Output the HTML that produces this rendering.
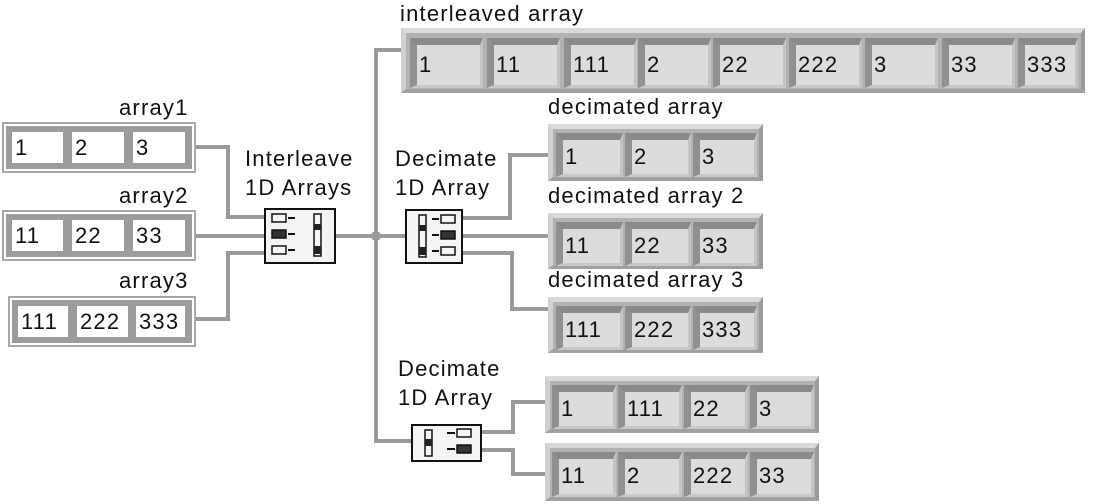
<!DOCTYPE html>
<html><head><meta charset="utf-8"><style>
body{margin:0;width:1099px;height:504px;background:#fff;position:relative;overflow:hidden;font-family:"Liberation Sans",sans-serif;font-size:22px;letter-spacing:1.2px;color:#111}
div{position:absolute;box-sizing:border-box}
.t{white-space:nowrap;line-height:24px}
.w{background:#9a9a9a}
.ind{background:#b2b2b2;border-top:5px solid #dadada;border-left:5px solid #d0d0d0;border-right:4px solid #9a9a9a;border-bottom:4px solid #a0a0a0}
.c{background:#dcdcdc;border-top:7px solid #8a8a8a;border-left:7px solid #909090;border-right:3px solid #c4c4c4;border-bottom:3px solid #c8c8c8;padding-left:2px;white-space:nowrap}
.i1 .c{line-height:40px}
.i2 .c{line-height:34px}
.la{border:2px solid #a8a8a8;background:#fff;padding:2px}
.lai{position:relative;width:100%;height:100%;background:#9c9c9c}
.lc{background:#fff;line-height:31px;padding-left:3px;white-space:nowrap}
.node{border:2px solid #111;background:#f4f4f4}
</style></head><body>

<!-- wires -->
<div class="w" style="left:196px;top:145px;width:34px;height:4px"></div>
<div class="w" style="left:226px;top:145px;width:4px;height:74px"></div>
<div class="w" style="left:226px;top:215px;width:40px;height:4px"></div>
<div class="w" style="left:196px;top:234px;width:70px;height:4px"></div>
<div class="w" style="left:196px;top:317px;width:34px;height:4px"></div>
<div class="w" style="left:226px;top:251px;width:4px;height:70px"></div>
<div class="w" style="left:226px;top:251px;width:40px;height:4px"></div>
<div class="w" style="left:336px;top:234px;width:70px;height:4px"></div>
<div class="w" style="left:374px;top:48px;width:4px;height:395px"></div>
<div class="w" style="left:374px;top:48px;width:30px;height:4px"></div>
<div class="w" style="left:374px;top:439px;width:38px;height:4px"></div>
<div style="left:371px;top:231px;width:10px;height:10px;border-radius:50%;background:#9a9a9a"></div>
<div class="w" style="left:462px;top:216px;width:50px;height:4px"></div>
<div class="w" style="left:508px;top:153px;width:4px;height:67px"></div>
<div class="w" style="left:508px;top:153px;width:40px;height:4px"></div>
<div class="w" style="left:462px;top:234px;width:88px;height:4px"></div>
<div class="w" style="left:462px;top:251px;width:52px;height:4px"></div>
<div class="w" style="left:510px;top:251px;width:4px;height:60px"></div>
<div class="w" style="left:510px;top:307px;width:40px;height:4px"></div>
<div class="w" style="left:482px;top:430px;width:33px;height:4px"></div>
<div class="w" style="left:511px;top:400px;width:4px;height:34px"></div>
<div class="w" style="left:511px;top:400px;width:36px;height:4px"></div>
<div class="w" style="left:482px;top:448px;width:33px;height:4px"></div>
<div class="w" style="left:511px;top:448px;width:4px;height:28px"></div>
<div class="w" style="left:511px;top:472px;width:36px;height:4px"></div>

<!-- left arrays -->
<div class="t" style="left:119px;top:96px">array1</div>
<div class="la" style="left:2px;top:122px;width:194px;height:51px"><div class="lai">
<div class="lc" style="left:6px;top:6px;width:51px;height:31px">1</div>
<div class="lc" style="left:66px;top:6px;width:52px;height:31px">2</div>
<div class="lc" style="left:127px;top:6px;width:52px;height:31px">3</div></div></div>
<div class="t" style="left:119px;top:184px">array2</div>
<div class="la" style="left:2px;top:210px;width:194px;height:51px"><div class="lai">
<div class="lc" style="left:6px;top:6px;width:51px;height:31px">11</div>
<div class="lc" style="left:66px;top:6px;width:52px;height:31px">22</div>
<div class="lc" style="left:127px;top:6px;width:52px;height:31px">33</div></div></div>
<div class="t" style="left:119px;top:269px">array3</div>
<div class="la" style="left:8px;top:296px;width:188px;height:51px"><div class="lai">
<div class="lc" style="left:6px;top:6px;width:50px;height:31px">111</div>
<div class="lc" style="left:65px;top:6px;width:51px;height:31px">222</div>
<div class="lc" style="left:124px;top:6px;width:49px;height:31px">333</div></div></div>

<!-- nodes -->
<div class="t" style="left:245px;top:147px">Interleave</div>
<div class="t" style="left:245px;top:176px">1D Arrays</div>
<div class="node" style="left:264px;top:208px;width:72px;height:56px">
<svg width="68" height="52" style="position:absolute;left:0;top:0">
<g fill="none" stroke="#111" stroke-width="1.5"><rect x="6" y="4" width="14" height="8"/><rect x="6" y="20" width="14" height="8" fill="#333"/><rect x="6" y="36" width="14" height="8"/><rect x="48" y="4" width="7" height="42"/></g>
<g stroke="#111" stroke-width="2"><line x1="22" y1="8" x2="29" y2="8"/><line x1="22" y1="24" x2="29" y2="24"/><line x1="22" y1="40" x2="29" y2="40"/></g>
<rect x="48" y="14" width="7" height="6" fill="#222"/><rect x="48" y="36" width="7" height="8" fill="#222"/></svg></div>

<div class="t" style="left:395px;top:147px">Decimate</div>
<div class="t" style="left:395px;top:176px">1D Array</div>
<div class="node" style="left:405px;top:209px;width:58px;height:55px">
<svg width="54" height="51" style="position:absolute;left:0;top:0">
<g fill="none" stroke="#111" stroke-width="1.5"><rect x="12" y="4" width="7" height="42"/><rect x="34" y="4" width="14" height="8"/><rect x="34" y="20" width="14" height="8" fill="#333"/><rect x="34" y="36" width="14" height="8"/></g>
<rect x="12" y="14" width="7" height="6" fill="#222"/><rect x="12" y="36" width="7" height="8" fill="#222"/>
<g stroke="#111" stroke-width="2"><line x1="25" y1="8" x2="32" y2="8"/><line x1="25" y1="24" x2="32" y2="24"/><line x1="25" y1="40" x2="32" y2="40"/></g></svg></div>

<div class="t" style="left:398px;top:357px">Decimate</div>
<div class="t" style="left:398px;top:386px">1D Array</div>
<div class="node" style="left:411px;top:424px;width:71px;height:38px">
<svg width="67" height="34" style="position:absolute;left:0;top:0">
<g fill="none" stroke="#111" stroke-width="1.5"><rect x="12" y="4" width="7" height="26"/><rect x="44" y="3" width="14" height="8"/><rect x="44" y="19" width="14" height="8" fill="#333"/></g>
<rect x="12" y="13" width="7" height="7" fill="#222"/>
<g stroke="#111" stroke-width="2"><line x1="34" y1="7" x2="42" y2="7"/><line x1="34" y1="23" x2="42" y2="23"/></g></svg></div>

<!-- interleaved array -->
<div class="t" style="left:400px;top:2px">interleaved array</div>
<div class="ind i1" style="left:401px;top:28px;width:684px;height:65px">
<div class="c" style="left:4px;top:5px;width:73px;height:50px">1</div>
<div class="c" style="left:81px;top:5px;width:73px;height:50px">11</div>
<div class="c" style="left:158px;top:5px;width:73px;height:50px">111</div>
<div class="c" style="left:232px;top:5px;width:73px;height:50px">2</div>
<div class="c" style="left:307px;top:5px;width:73px;height:50px">22</div>
<div class="c" style="left:383px;top:5px;width:73px;height:50px">222</div>
<div class="c" style="left:459px;top:5px;width:73px;height:50px">3</div>
<div class="c" style="left:536px;top:5px;width:73px;height:50px">33</div>
<div class="c" style="left:612px;top:5px;width:60px;height:50px">333</div>
</div>

<div class="t" style="left:548px;top:95px">decimated array</div>
<div class="ind i2" style="left:548px;top:124px;width:215px;height:57px">
<div class="c" style="left:3px;top:4px;width:67px;height:44px">1</div>
<div class="c" style="left:72px;top:4px;width:66px;height:44px">2</div>
<div class="c" style="left:140px;top:4px;width:64px;height:44px">3</div></div>

<div class="t" style="left:548px;top:184px">decimated array 2</div>
<div class="ind i2" style="left:548px;top:213px;width:215px;height:56px">
<div class="c" style="left:3px;top:4px;width:67px;height:44px">11</div>
<div class="c" style="left:72px;top:4px;width:66px;height:44px">22</div>
<div class="c" style="left:140px;top:4px;width:64px;height:44px">33</div></div>

<div class="t" style="left:548px;top:268px">decimated array 3</div>
<div class="ind i2" style="left:548px;top:297px;width:215px;height:56px">
<div class="c" style="left:3px;top:4px;width:67px;height:44px">111</div>
<div class="c" style="left:72px;top:4px;width:66px;height:44px">222</div>
<div class="c" style="left:140px;top:4px;width:64px;height:44px">333</div></div>

<div class="ind i2" style="left:545px;top:376px;width:274px;height:57px">
<div class="c" style="left:2px;top:4px;width:64px;height:44px">1</div>
<div class="c" style="left:68px;top:4px;width:64px;height:44px">111</div>
<div class="c" style="left:134px;top:4px;width:64px;height:44px">22</div>
<div class="c" style="left:200px;top:4px;width:64px;height:44px">3</div></div>

<div class="ind i2" style="left:545px;top:443px;width:274px;height:58px">
<div class="c" style="left:2px;top:4px;width:64px;height:45px">11</div>
<div class="c" style="left:68px;top:4px;width:64px;height:45px">2</div>
<div class="c" style="left:134px;top:4px;width:64px;height:45px">222</div>
<div class="c" style="left:200px;top:4px;width:64px;height:45px">33</div></div>

</body></html>
